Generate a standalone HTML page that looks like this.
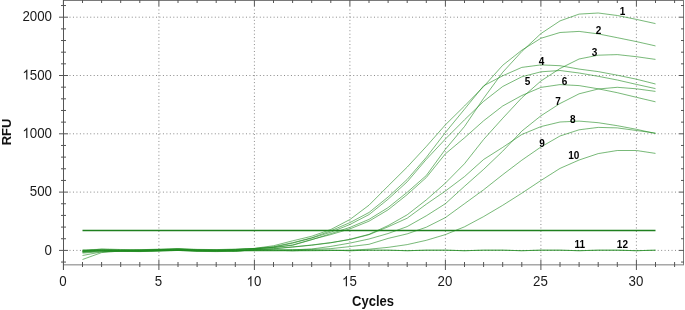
<!DOCTYPE html>
<html><head><meta charset="utf-8"><style>
html,body{margin:0;padding:0;background:#fff;}
svg{display:block;will-change:transform;}
.g{stroke:#8a8a8a;stroke-width:1;stroke-dasharray:1 2.46;fill:none;}
.f{stroke:#7a7a7a;stroke-width:1;fill:none;}
.ax{stroke:#555;stroke-width:1;fill:none;}
.t{stroke:#555;stroke-width:1;fill:none;}
.lab{font-family:"Liberation Sans",sans-serif;font-size:13.3px;fill:#1a1a1a;}
.ttl{font-family:"Liberation Sans",sans-serif;font-size:13px;font-weight:bold;fill:#111;}
.cl{font-family:"Liberation Sans",sans-serif;font-size:10px;font-weight:bold;fill:#000;}
.thr{stroke:#1f7f1f;stroke-width:1.4;fill:none;}
.cv{stroke:#1f8a1f;stroke-width:0.6;fill:none;stroke-linejoin:round;}
</style></head><body>
<svg width="685" height="310" viewBox="0 0 685 310">
<defs><filter id="bl" x="-5%" y="-5%" width="110%" height="110%"><feGaussianBlur stdDeviation="0.3"/></filter></defs>
<line x1="69.5" y1="250.40" x2="679" y2="250.40" class="g"/>
<line x1="69.5" y1="192.10" x2="679" y2="192.10" class="g"/>
<line x1="69.5" y1="133.80" x2="679" y2="133.80" class="g"/>
<line x1="69.5" y1="75.50" x2="679" y2="75.50" class="g"/>
<line x1="69.5" y1="17.20" x2="679" y2="17.20" class="g"/>
<line x1="158.90" y1="6" x2="158.90" y2="260" class="g"/>
<line x1="254.40" y1="6" x2="254.40" y2="260" class="g"/>
<line x1="349.90" y1="6" x2="349.90" y2="260" class="g"/>
<line x1="445.40" y1="6" x2="445.40" y2="260" class="g"/>
<line x1="540.90" y1="6" x2="540.90" y2="260" class="g"/>
<line x1="636.40" y1="6" x2="636.40" y2="260" class="g"/>
<line x1="63" y1="0.5" x2="684" y2="0.5" class="f"/>
<line x1="683.5" y1="0" x2="683.5" y2="265" class="f"/>
<line x1="63" y1="264.85" x2="684" y2="264.85" class="f"/>
<line x1="63.5" y1="0" x2="63.5" y2="270" class="ax"/>
<line x1="61" y1="262.06" x2="66" y2="262.06" class="t"/>
<line x1="681" y1="262.06" x2="684" y2="262.06" class="t"/>
<line x1="59" y1="250.40" x2="68" y2="250.40" class="t"/>
<line x1="679" y1="250.40" x2="684" y2="250.40" class="t"/>
<line x1="61" y1="238.74" x2="66" y2="238.74" class="t"/>
<line x1="681" y1="238.74" x2="684" y2="238.74" class="t"/>
<line x1="61" y1="227.08" x2="66" y2="227.08" class="t"/>
<line x1="681" y1="227.08" x2="684" y2="227.08" class="t"/>
<line x1="61" y1="215.42" x2="66" y2="215.42" class="t"/>
<line x1="681" y1="215.42" x2="684" y2="215.42" class="t"/>
<line x1="61" y1="203.76" x2="66" y2="203.76" class="t"/>
<line x1="681" y1="203.76" x2="684" y2="203.76" class="t"/>
<line x1="59" y1="192.10" x2="68" y2="192.10" class="t"/>
<line x1="679" y1="192.10" x2="684" y2="192.10" class="t"/>
<line x1="61" y1="180.44" x2="66" y2="180.44" class="t"/>
<line x1="681" y1="180.44" x2="684" y2="180.44" class="t"/>
<line x1="61" y1="168.78" x2="66" y2="168.78" class="t"/>
<line x1="681" y1="168.78" x2="684" y2="168.78" class="t"/>
<line x1="61" y1="157.12" x2="66" y2="157.12" class="t"/>
<line x1="681" y1="157.12" x2="684" y2="157.12" class="t"/>
<line x1="61" y1="145.46" x2="66" y2="145.46" class="t"/>
<line x1="681" y1="145.46" x2="684" y2="145.46" class="t"/>
<line x1="59" y1="133.80" x2="68" y2="133.80" class="t"/>
<line x1="679" y1="133.80" x2="684" y2="133.80" class="t"/>
<line x1="61" y1="122.14" x2="66" y2="122.14" class="t"/>
<line x1="681" y1="122.14" x2="684" y2="122.14" class="t"/>
<line x1="61" y1="110.48" x2="66" y2="110.48" class="t"/>
<line x1="681" y1="110.48" x2="684" y2="110.48" class="t"/>
<line x1="61" y1="98.82" x2="66" y2="98.82" class="t"/>
<line x1="681" y1="98.82" x2="684" y2="98.82" class="t"/>
<line x1="61" y1="87.16" x2="66" y2="87.16" class="t"/>
<line x1="681" y1="87.16" x2="684" y2="87.16" class="t"/>
<line x1="59" y1="75.50" x2="68" y2="75.50" class="t"/>
<line x1="679" y1="75.50" x2="684" y2="75.50" class="t"/>
<line x1="61" y1="63.84" x2="66" y2="63.84" class="t"/>
<line x1="681" y1="63.84" x2="684" y2="63.84" class="t"/>
<line x1="61" y1="52.18" x2="66" y2="52.18" class="t"/>
<line x1="681" y1="52.18" x2="684" y2="52.18" class="t"/>
<line x1="61" y1="40.52" x2="66" y2="40.52" class="t"/>
<line x1="681" y1="40.52" x2="684" y2="40.52" class="t"/>
<line x1="61" y1="28.86" x2="66" y2="28.86" class="t"/>
<line x1="681" y1="28.86" x2="684" y2="28.86" class="t"/>
<line x1="59" y1="17.20" x2="68" y2="17.20" class="t"/>
<line x1="679" y1="17.20" x2="684" y2="17.20" class="t"/>
<line x1="61" y1="5.54" x2="66" y2="5.54" class="t"/>
<line x1="681" y1="5.54" x2="684" y2="5.54" class="t"/>
<line x1="63.40" y1="260" x2="63.40" y2="270" class="t"/>
<line x1="63.40" y1="0" x2="63.40" y2="6" class="t"/>
<line x1="82.50" y1="262" x2="82.50" y2="267" class="t"/>
<line x1="82.50" y1="0" x2="82.50" y2="3" class="t"/>
<line x1="101.60" y1="262" x2="101.60" y2="267" class="t"/>
<line x1="101.60" y1="0" x2="101.60" y2="3" class="t"/>
<line x1="120.70" y1="262" x2="120.70" y2="267" class="t"/>
<line x1="120.70" y1="0" x2="120.70" y2="3" class="t"/>
<line x1="139.80" y1="262" x2="139.80" y2="267" class="t"/>
<line x1="139.80" y1="0" x2="139.80" y2="3" class="t"/>
<line x1="158.90" y1="260" x2="158.90" y2="270" class="t"/>
<line x1="158.90" y1="0" x2="158.90" y2="6" class="t"/>
<line x1="178.00" y1="262" x2="178.00" y2="267" class="t"/>
<line x1="178.00" y1="0" x2="178.00" y2="3" class="t"/>
<line x1="197.10" y1="262" x2="197.10" y2="267" class="t"/>
<line x1="197.10" y1="0" x2="197.10" y2="3" class="t"/>
<line x1="216.20" y1="262" x2="216.20" y2="267" class="t"/>
<line x1="216.20" y1="0" x2="216.20" y2="3" class="t"/>
<line x1="235.30" y1="262" x2="235.30" y2="267" class="t"/>
<line x1="235.30" y1="0" x2="235.30" y2="3" class="t"/>
<line x1="254.40" y1="260" x2="254.40" y2="270" class="t"/>
<line x1="254.40" y1="0" x2="254.40" y2="6" class="t"/>
<line x1="273.50" y1="262" x2="273.50" y2="267" class="t"/>
<line x1="273.50" y1="0" x2="273.50" y2="3" class="t"/>
<line x1="292.60" y1="262" x2="292.60" y2="267" class="t"/>
<line x1="292.60" y1="0" x2="292.60" y2="3" class="t"/>
<line x1="311.70" y1="262" x2="311.70" y2="267" class="t"/>
<line x1="311.70" y1="0" x2="311.70" y2="3" class="t"/>
<line x1="330.80" y1="262" x2="330.80" y2="267" class="t"/>
<line x1="330.80" y1="0" x2="330.80" y2="3" class="t"/>
<line x1="349.90" y1="260" x2="349.90" y2="270" class="t"/>
<line x1="349.90" y1="0" x2="349.90" y2="6" class="t"/>
<line x1="369.00" y1="262" x2="369.00" y2="267" class="t"/>
<line x1="369.00" y1="0" x2="369.00" y2="3" class="t"/>
<line x1="388.10" y1="262" x2="388.10" y2="267" class="t"/>
<line x1="388.10" y1="0" x2="388.10" y2="3" class="t"/>
<line x1="407.20" y1="262" x2="407.20" y2="267" class="t"/>
<line x1="407.20" y1="0" x2="407.20" y2="3" class="t"/>
<line x1="426.30" y1="262" x2="426.30" y2="267" class="t"/>
<line x1="426.30" y1="0" x2="426.30" y2="3" class="t"/>
<line x1="445.40" y1="260" x2="445.40" y2="270" class="t"/>
<line x1="445.40" y1="0" x2="445.40" y2="6" class="t"/>
<line x1="464.50" y1="262" x2="464.50" y2="267" class="t"/>
<line x1="464.50" y1="0" x2="464.50" y2="3" class="t"/>
<line x1="483.60" y1="262" x2="483.60" y2="267" class="t"/>
<line x1="483.60" y1="0" x2="483.60" y2="3" class="t"/>
<line x1="502.70" y1="262" x2="502.70" y2="267" class="t"/>
<line x1="502.70" y1="0" x2="502.70" y2="3" class="t"/>
<line x1="521.80" y1="262" x2="521.80" y2="267" class="t"/>
<line x1="521.80" y1="0" x2="521.80" y2="3" class="t"/>
<line x1="540.90" y1="260" x2="540.90" y2="270" class="t"/>
<line x1="540.90" y1="0" x2="540.90" y2="6" class="t"/>
<line x1="560.00" y1="262" x2="560.00" y2="267" class="t"/>
<line x1="560.00" y1="0" x2="560.00" y2="3" class="t"/>
<line x1="579.10" y1="262" x2="579.10" y2="267" class="t"/>
<line x1="579.10" y1="0" x2="579.10" y2="3" class="t"/>
<line x1="598.20" y1="262" x2="598.20" y2="267" class="t"/>
<line x1="598.20" y1="0" x2="598.20" y2="3" class="t"/>
<line x1="617.30" y1="262" x2="617.30" y2="267" class="t"/>
<line x1="617.30" y1="0" x2="617.30" y2="3" class="t"/>
<line x1="636.40" y1="260" x2="636.40" y2="270" class="t"/>
<line x1="636.40" y1="0" x2="636.40" y2="6" class="t"/>
<line x1="655.50" y1="262" x2="655.50" y2="267" class="t"/>
<line x1="655.50" y1="0" x2="655.50" y2="3" class="t"/>
<line x1="674.60" y1="262" x2="674.60" y2="267" class="t"/>
<line x1="674.60" y1="0" x2="674.60" y2="3" class="t"/>
<text transform="translate(44.605,254.500) scale(1,1.07)" class="lab">0</text>
<text transform="translate(29.816,196.200) scale(1,1.07)" class="lab">5</text>
<text transform="translate(37.210,196.200) scale(1,1.07)" class="lab">0</text>
<text transform="translate(44.605,196.200) scale(1,1.07)" class="lab">0</text>
<path d="M763 0L583 0L583 1147C540 1106 483 1065 413 1024C342 983 279 952 223 931L223 1105C324 1152 412 1210 487 1277C562 1344 615 1408 646 1469L763 1469Z" transform="translate(22.421,137.900) scale(0.006494,-0.006949)" fill="#1a1a1a"/>
<text transform="translate(29.816,137.900) scale(1,1.07)" class="lab">0</text>
<text transform="translate(37.210,137.900) scale(1,1.07)" class="lab">0</text>
<text transform="translate(44.605,137.900) scale(1,1.07)" class="lab">0</text>
<path d="M763 0L583 0L583 1147C540 1106 483 1065 413 1024C342 983 279 952 223 931L223 1105C324 1152 412 1210 487 1277C562 1344 615 1408 646 1469L763 1469Z" transform="translate(22.421,79.600) scale(0.006494,-0.006949)" fill="#1a1a1a"/>
<text transform="translate(29.816,79.600) scale(1,1.07)" class="lab">5</text>
<text transform="translate(37.210,79.600) scale(1,1.07)" class="lab">0</text>
<text transform="translate(44.605,79.600) scale(1,1.07)" class="lab">0</text>
<text transform="translate(22.421,21.300) scale(1,1.07)" class="lab">2</text>
<text transform="translate(29.816,21.300) scale(1,1.07)" class="lab">0</text>
<text transform="translate(37.210,21.300) scale(1,1.07)" class="lab">0</text>
<text transform="translate(44.605,21.300) scale(1,1.07)" class="lab">0</text>
<text transform="translate(59.203,286.300) scale(1,1.07)" class="lab">0</text>
<text transform="translate(154.703,286.300) scale(1,1.07)" class="lab">5</text>
<path d="M763 0L583 0L583 1147C540 1106 483 1065 413 1024C342 983 279 952 223 931L223 1105C324 1152 412 1210 487 1277C562 1344 615 1408 646 1469L763 1469Z" transform="translate(246.505,286.300) scale(0.006494,-0.006949)" fill="#1a1a1a"/>
<text transform="translate(253.900,286.300) scale(1,1.07)" class="lab">0</text>
<path d="M763 0L583 0L583 1147C540 1106 483 1065 413 1024C342 983 279 952 223 931L223 1105C324 1152 412 1210 487 1277C562 1344 615 1408 646 1469L763 1469Z" transform="translate(342.005,286.300) scale(0.006494,-0.006949)" fill="#1a1a1a"/>
<text transform="translate(349.400,286.300) scale(1,1.07)" class="lab">5</text>
<text transform="translate(437.505,286.300) scale(1,1.07)" class="lab">2</text>
<text transform="translate(444.900,286.300) scale(1,1.07)" class="lab">0</text>
<text transform="translate(533.005,286.300) scale(1,1.07)" class="lab">2</text>
<text transform="translate(540.400,286.300) scale(1,1.07)" class="lab">5</text>
<text transform="translate(628.505,286.300) scale(1,1.07)" class="lab">3</text>
<text transform="translate(635.900,286.300) scale(1,1.07)" class="lab">0</text>
<text transform="translate(373,306) scale(1,1.07)" text-anchor="middle" class="ttl">Cycles</text>
<text transform="translate(11.1,132) rotate(-90) scale(1,1.05)" text-anchor="middle" class="ttl">RFU</text>
<line x1="82.50" y1="230.5" x2="655.50" y2="230.5" class="thr"/>
<g filter="url(#bl)">
<polyline points="82.50,249.80 101.60,249.30 120.70,249.79 139.80,249.99 158.90,249.48 178.00,248.85 197.10,249.69 216.20,249.87 235.30,249.41 254.40,248.78 273.50,247.66 292.60,245.24 311.70,239.78 330.80,233.60 349.90,227.40 369.00,219.40 388.10,207.60 407.20,192.30 426.30,175.50 445.40,149.30 464.50,126.50 483.60,98.30 502.70,72.30 521.80,51.50 540.90,33.60 560.00,20.90 579.10,14.10 598.20,13.00 617.30,15.50 636.40,19.40 655.50,23.60" class="cv"/>
<polyline points="82.50,251.70 101.60,250.29 120.70,250.79 139.80,250.97 158.90,250.44 178.00,249.78 197.10,250.54 216.20,250.55 235.30,249.75 254.40,248.39 273.50,245.74 292.60,240.83 311.70,236.26 330.80,229.51 349.90,219.55 369.00,205.20 388.10,186.00 407.20,167.10 426.30,146.50 445.40,124.80 464.50,106.00 483.60,86.60 502.70,65.30 521.80,50.20 540.90,38.30 560.00,32.50 579.10,31.40 598.20,33.90 617.30,37.70 636.40,41.60 655.50,45.90" class="cv"/>
<polyline points="82.50,252.50 101.60,250.80 120.70,251.30 139.80,251.49 158.90,250.99 178.00,250.38 197.10,251.25 216.20,251.50 235.30,251.19 254.40,249.80 273.50,248.90 292.60,247.10 311.70,245.20 330.80,242.80 349.90,239.30 369.00,234.30 388.10,225.60 407.20,214.80 426.30,199.90 445.40,183.10 464.50,163.70 483.60,139.50 502.70,118.30 521.80,97.80 540.90,81.00 560.00,68.50 579.10,59.00 598.20,55.20 617.30,54.60 636.40,56.70 655.50,59.40" class="cv"/>
<polyline points="82.50,250.70 101.60,249.70 120.70,250.19 139.80,250.38 158.90,249.86 178.00,249.21 197.10,250.02 216.20,250.12 235.30,249.50 254.40,248.53 273.50,246.69 292.60,242.70 311.70,237.81 330.80,230.80 349.90,222.60 369.00,212.50 388.10,197.00 407.20,179.40 426.30,157.40 445.40,132.50 464.50,109.20 483.60,85.80 502.70,75.80 521.80,67.40 540.90,64.90 560.00,65.70 579.10,69.10 598.20,71.60 617.30,75.20 636.40,79.20 655.50,84.00" class="cv"/>
<polyline points="82.50,250.80 101.60,250.50 120.70,250.99 139.80,251.18 158.90,250.65 178.00,250.00 197.10,250.80 216.20,250.88 235.30,250.22 254.40,249.15 273.50,247.11 292.60,243.15 311.70,238.13 330.80,232.20 349.90,224.50 369.00,214.60 388.10,199.20 407.20,181.80 426.30,159.40 445.40,139.00 464.50,119.80 483.60,101.40 502.70,86.50 521.80,76.80 540.90,71.80 560.00,70.50 579.10,73.00 598.20,76.30 617.30,80.00 636.40,84.40 655.50,88.60" class="cv"/>
<polyline points="82.50,251.00 101.60,249.00 120.70,249.49 139.80,249.69 158.90,249.18 178.00,248.55 197.10,249.39 216.20,249.58 235.30,249.13 254.40,248.51 273.50,247.42 292.60,244.98 311.70,239.49 330.80,234.60 349.90,228.90 369.00,221.20 388.10,209.80 407.20,194.60 426.30,177.50 445.40,153.80 464.50,137.80 483.60,120.80 502.70,106.00 521.80,95.50 540.90,87.40 560.00,84.60 579.10,85.60 598.20,88.80 617.30,92.70 636.40,97.30 655.50,101.80" class="cv"/>
<polyline points="82.50,251.30 101.60,250.10 120.70,250.60 139.80,250.80 158.90,250.30 178.00,249.69 197.10,250.58 216.20,250.86 235.30,250.62 254.40,250.43 273.50,250.23 292.60,249.83 311.70,248.99 330.80,246.40 349.90,243.10 369.00,239.00 388.10,233.52 407.20,226.58 426.30,215.80 445.40,203.70 464.50,186.30 483.60,169.40 502.70,151.20 521.80,131.10 540.90,115.80 560.00,103.50 579.10,93.80 598.20,89.00 617.30,87.30 636.40,88.80 655.50,91.40" class="cv"/>
<polyline points="82.50,250.90 101.60,250.90 120.70,251.40 139.80,251.59 158.90,251.09 178.00,250.48 197.10,251.35 216.20,251.60 235.30,251.28 254.40,249.60 273.50,248.60 292.60,246.90 311.70,245.00 330.80,242.60 349.90,239.60 369.00,234.70 388.10,226.80 407.20,218.20 426.30,204.20 445.40,191.00 464.50,176.60 483.60,159.50 502.70,147.40 521.80,134.50 540.90,126.60 560.00,122.00 579.10,121.10 598.20,122.70 617.30,125.70 636.40,129.30 655.50,133.50" class="cv"/>
<polyline points="82.50,259.50 101.60,252.60 120.70,251.00 139.80,250.20 158.90,249.70 178.00,249.10 197.10,249.99 216.20,250.28 235.30,250.07 254.40,249.93 273.50,249.85 292.60,249.69 311.70,249.35 330.80,248.63 349.90,246.60 369.00,244.30 388.10,238.42 407.20,233.86 426.30,227.20 445.40,217.60 464.50,203.70 483.60,189.80 502.70,174.70 521.80,160.20 540.90,147.00 560.00,136.00 579.10,129.80 598.20,127.40 617.30,127.90 636.40,130.50 655.50,133.10" class="cv"/>
<polyline points="82.50,255.50 101.60,251.90 120.70,250.80 139.80,251.10 158.90,250.60 178.00,250.00 197.10,250.90 216.20,251.20 235.30,250.99 254.40,250.88 273.50,250.86 292.60,250.81 311.70,250.72 330.80,250.52 349.90,250.09 369.00,249.21 388.10,247.35 407.20,244.60 426.30,240.30 445.40,234.60 464.50,226.80 483.60,216.60 502.70,205.30 521.80,193.20 540.90,180.50 560.00,168.40 579.10,160.00 598.20,153.60 617.30,150.50 636.40,150.50 655.50,153.40" class="cv"/>
<polyline points="82.50,253.10 101.60,251.70 120.70,250.70 139.80,250.30 158.90,250.05 178.00,250.25 197.10,250.20 216.20,250.35 235.30,250.75 254.40,250.20 273.50,250.20 292.60,250.70 311.70,250.20 330.80,250.20 349.90,250.70 369.00,250.20 388.10,250.20 407.20,250.70 426.30,250.20 445.40,250.20 464.50,250.70 483.60,250.20 502.70,250.20 521.80,250.70 540.90,250.20 560.00,250.20 579.10,250.70 598.20,250.20 617.30,250.20 636.40,250.70 655.50,250.20" class="cv"/>
<polyline points="82.50,251.80 101.60,251.00 120.70,250.70 139.80,250.30 158.90,250.05 178.00,250.25 197.10,250.20 216.20,250.35 235.30,250.75 254.40,250.20 273.50,250.20 292.60,250.70 311.70,250.20 330.80,250.20 349.90,250.70 369.00,250.20 388.10,250.20 407.20,250.70 426.30,250.20 445.40,250.20 464.50,250.70 483.60,250.20 502.70,250.20 521.80,250.70 540.90,250.20 560.00,250.20 579.10,250.70 598.20,250.20 617.30,250.20 636.40,250.70 655.50,250.20" class="cv"/>
</g>
<text x="622.5" y="15.2" text-anchor="middle" class="cl">1</text>
<text x="598.5" y="33.5" text-anchor="middle" class="cl">2</text>
<text x="594.5" y="55.8" text-anchor="middle" class="cl">3</text>
<text x="541.5" y="65.0" text-anchor="middle" class="cl">4</text>
<text x="527.5" y="84.8" text-anchor="middle" class="cl">5</text>
<text x="564.5" y="85.4" text-anchor="middle" class="cl">6</text>
<text x="558" y="105" text-anchor="middle" class="cl">7</text>
<text x="572.8" y="122.6" text-anchor="middle" class="cl">8</text>
<text x="542" y="146.8" text-anchor="middle" class="cl">9</text>
<text x="573.8" y="159.4" text-anchor="middle" class="cl">10</text>
<text x="579.8" y="248.2" text-anchor="middle" class="cl">11</text>
<text x="622.4" y="248.0" text-anchor="middle" class="cl">12</text>
</svg>
</body></html>
